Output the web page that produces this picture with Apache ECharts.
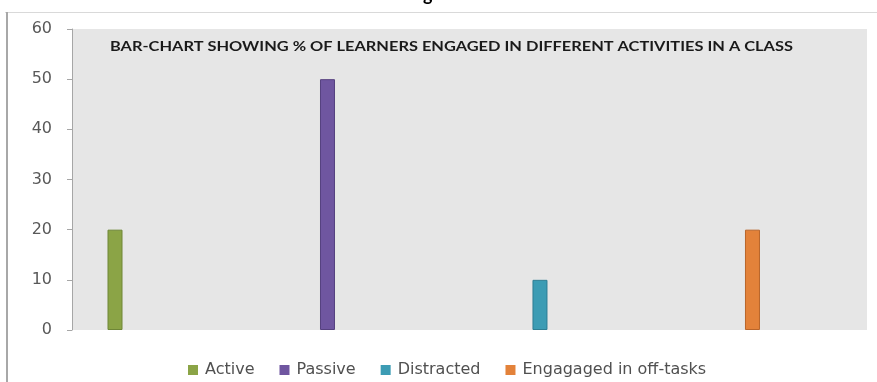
<!DOCTYPE html>
<html><head><meta charset="utf-8">
<script src="https://cdn.jsdelivr.net/npm/echarts@6/dist/echarts.min.js"></script>
<style>html,body{margin:0;padding:0;background:#fff}#c{width:877px;height:382px}</style>
</head><body><div id="c"></div>
<script>
const categories = ["Active", "Passive", "Distracted", "Engagaged in off-tasks"];
const values = [20, 50, 10, 20];
const colors = ["#8BA446", "#6F56A0", "#3C9CB4", "#E3823A"];
const borders = ["#6E8636", "#56417F", "#2E7E93", "#B9652A"];
const yTicks = [0, 10, 20, 30, 40, 50, 60];
const titleText = "BAR-CHART SHOWING % OF LEARNERS ENGAGED IN DIFFERENT ACTIVITIES IN A CLASS";

const chart = echarts.init(document.getElementById('c'), null, {renderer: 'canvas'});
const series = categories.map((name, i) => ({
  name: name,
  type: 'bar',
  barWidth: 15,
  barGap: '-100%',
  data: [[i, values[i]]],
  itemStyle: {color: colors[i], borderColor: borders[i], borderWidth: 1},
  silent: true
}));
chart.setOption({
  animation: false,
  backgroundColor: '#fff',
  grid: {left: 72, right: 10, top: 29, bottom: 52, show: true, backgroundColor: '#E6E6E6', borderWidth: 0},
  xAxis: {type: 'value', min: -0.2024, max: 3.539, show: false},
  yAxis: {
    type: 'value', min: yTicks[0], max: yTicks[yTicks.length - 1], interval: 10,
    axisLine: {show: true, onZero: false, lineStyle: {color: '#A6A6A6', width: 1}},
    axisTick: {show: true, length: 5, lineStyle: {color: '#A6A6A6'}},
    splitLine: {show: false},
    axisLabel: {margin: 20, color: '#595959', fontFamily: 'DejaVu Sans', fontSize: 16}
  },
  legend: {
    data: categories, top: 357, left: 183, itemWidth: 10, itemHeight: 10, itemGap: 25,
    icon: 'rect',
    itemStyle: {borderWidth: 0},
    textStyle: {fontFamily: 'DejaVu Sans', fontSize: 16, color: '#505050', padding: [0, 0, 0, 2]}
  },
  graphic: [
    {type: 'line', shape: {x1: 5, y1: 12.5, x2: 877, y2: 12.5}, style: {stroke: '#D9D9D9', lineWidth: 1}, silent: true},
    {type: 'line', shape: {x1: 7, y1: 12, x2: 7, y2: 382}, style: {stroke: '#A8A8A8', lineWidth: 2}, silent: true},
    {type: 'text', x: 423, y: -14, style: {text: 'g', fontFamily: 'Lato', fontWeight: 'bold', fontSize: 18, fill: '#000'}, silent: true},
    {type: 'text', x: 110, y: 40, scaleX: 1.26, style: {text: titleText, fontFamily: 'Lato', fontWeight: 'bold', fontSize: 13, fill: '#1a1a1a'}, silent: true}
  ],
  series: series
});
</script></body></html>
